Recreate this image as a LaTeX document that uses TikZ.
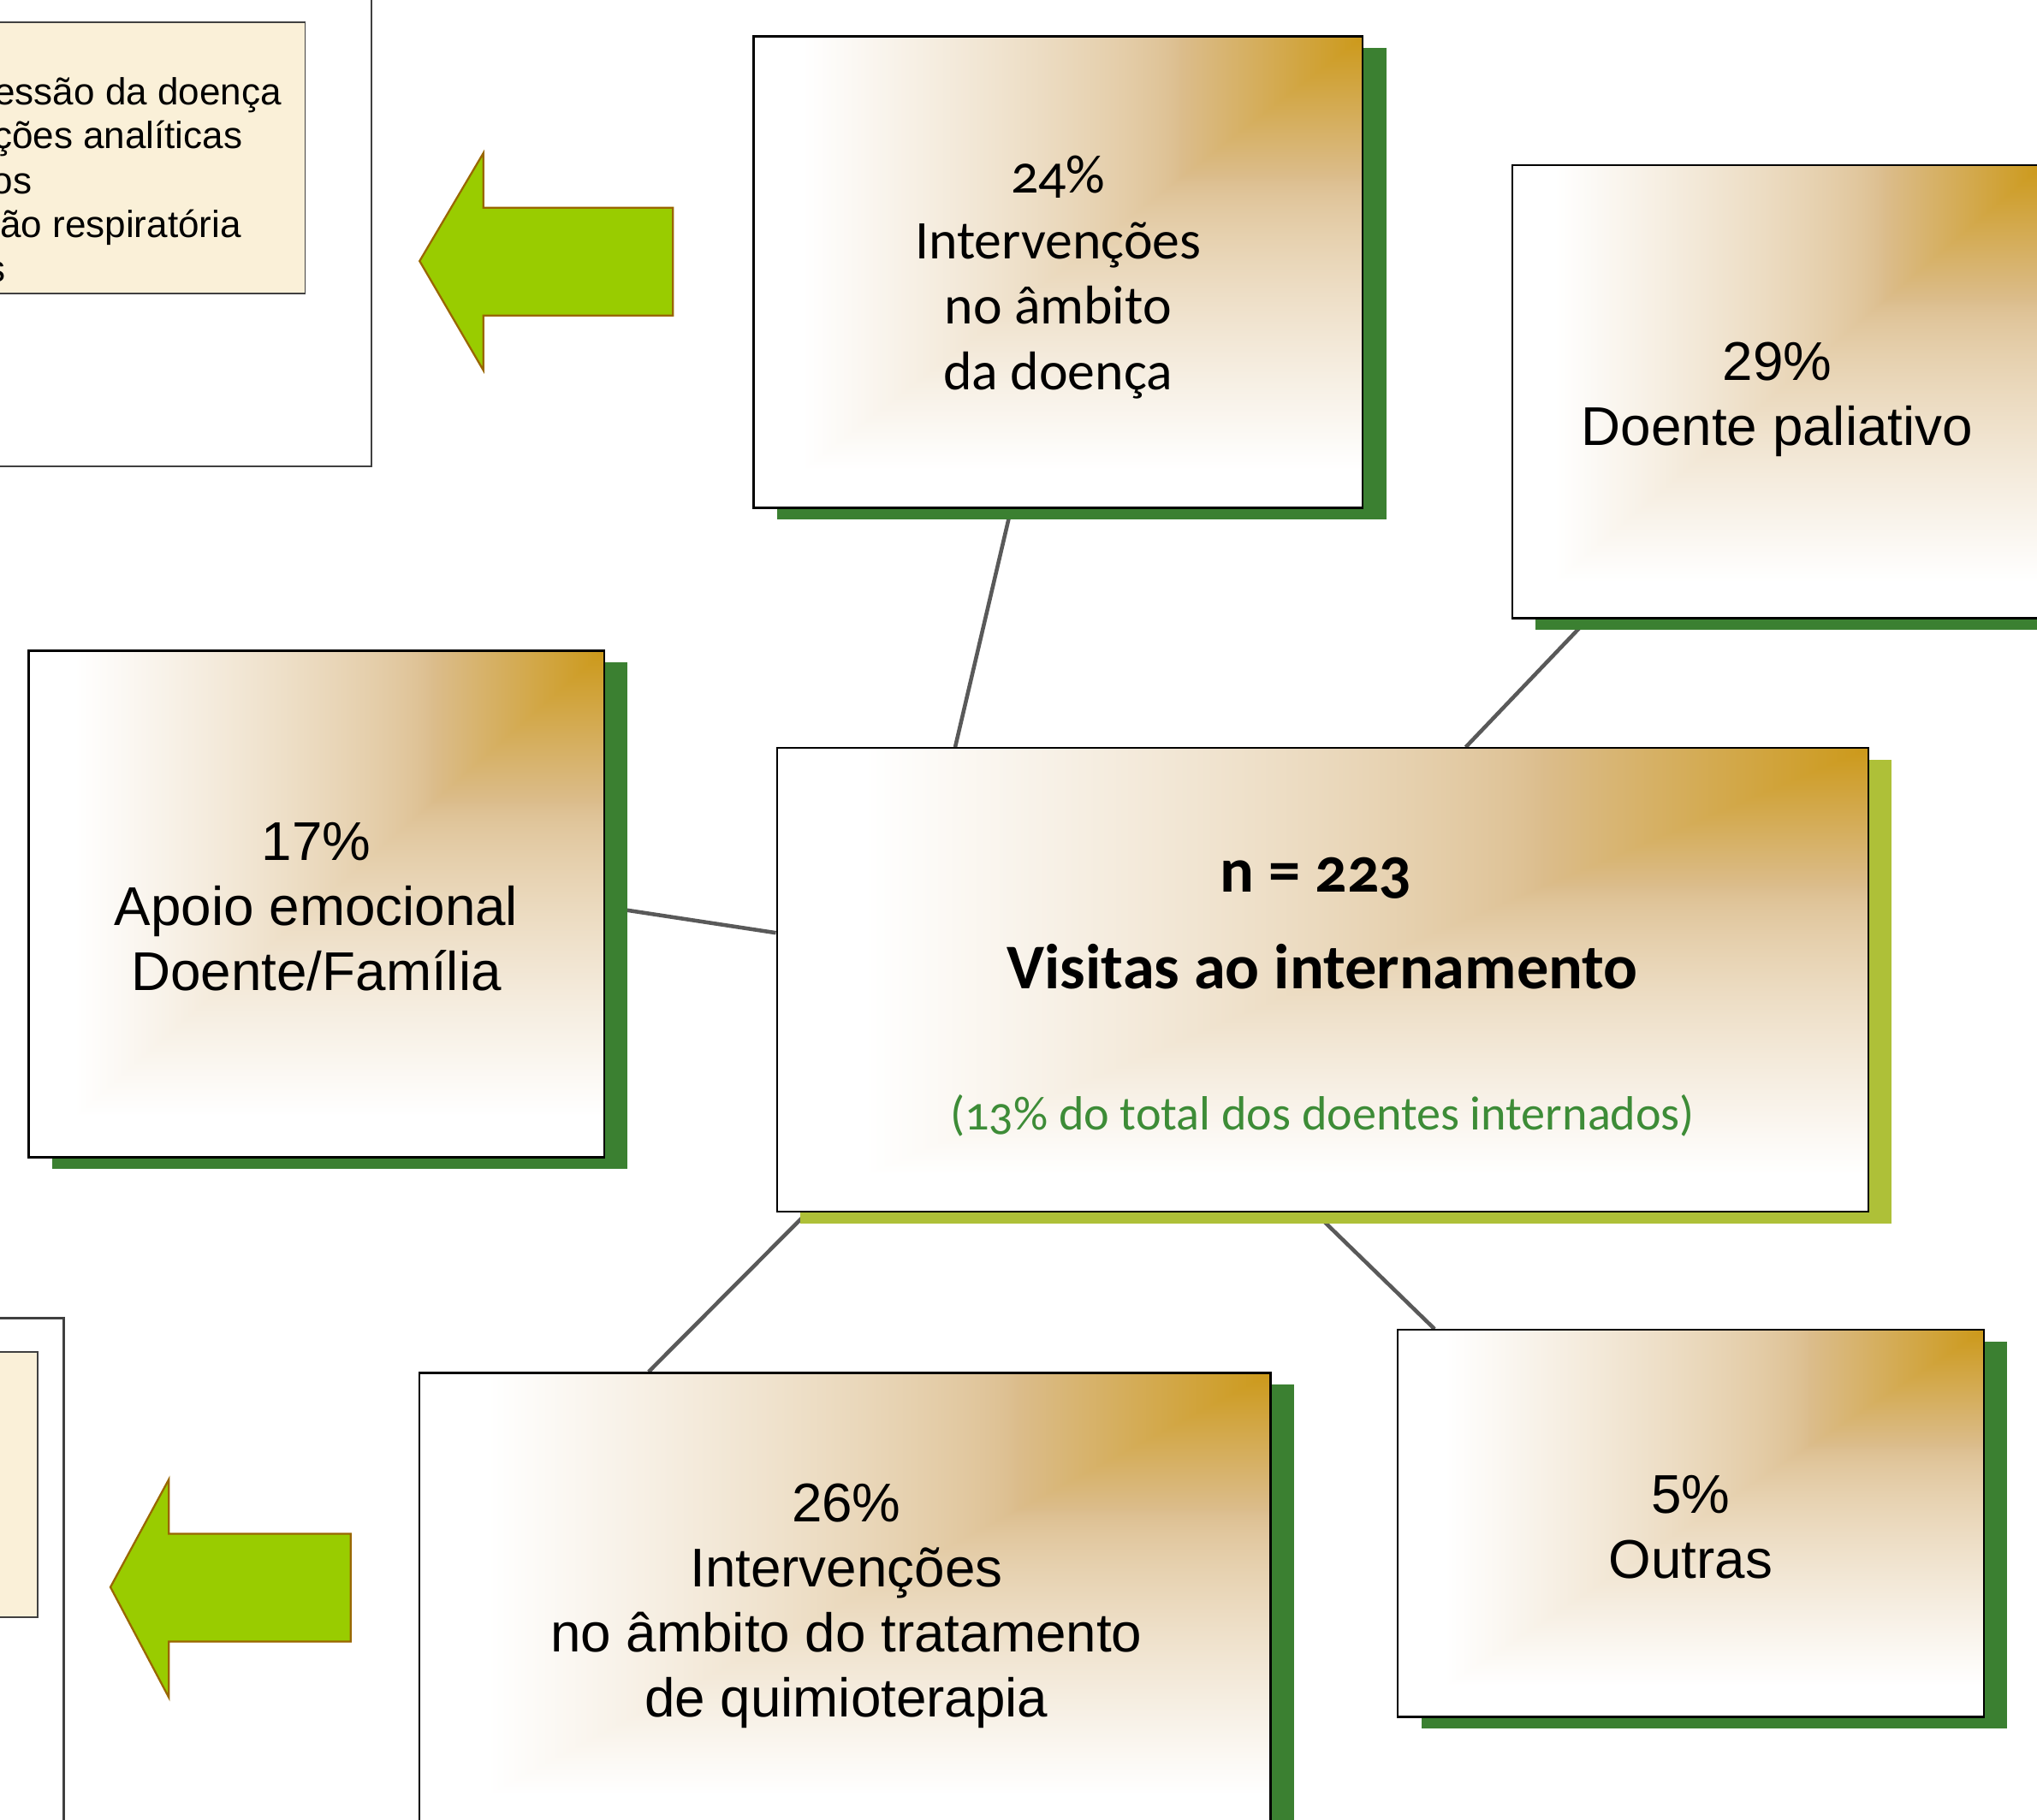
\documentclass[tikz,border=0pt]{standalone}
\usepackage{fontspec}
\setmainfont{Liberation Sans}
\newfontfamily\cand[Numbers=OldStyle]{Carlito}
\usetikzlibrary{shadows,calc}
\pgfdeclarelayer{bg}
\pgfsetlayers{bg,main}
\definecolor{shgreen}{RGB}{59,128,49}
\definecolor{shlime}{RGB}{174,192,56}
\definecolor{txtgreen}{RGB}{61,140,55}
\definecolor{conncol}{RGB}{89,89,89}
\definecolor{arrfill}{RGB}{153,204,0}
\definecolor{arrline}{RGB}{153,102,0}
\definecolor{parch}{RGB}{250,240,216}
\definecolor{framecol}{RGB}{64,64,64}
\pgfdeclarefunctionalshading{goldcorner}{\pgfpoint{0bp}{0bp}}{\pgfpoint{100bp}{100bp}}{}{
 75 exch sub 50 div exch 75 exch sub 50 div
 2 copy lt {exch} if pop
 dup 0 lt {pop 0} if
 dup 0.3 lt
 { 0.3 div dup 0.06 mul 0.80 add exch dup 0.14 mul 0.60 add exch 0.45 mul 0.10 add }
 { 0.3 sub 0.62 div dup 1 gt {pop 1} if 0.75 exp dup 0.14 mul 0.86 add exch dup 0.26 mul 0.74 add exch 0.45 mul 0.55 add }
 ifelse
}
\tikzset{
 gbox/.style={draw=black, line width=0.75pt, shading=goldcorner, inner sep=0pt,
   general shadow={shadow xshift=9pt, shadow yshift=-4.5pt, fill=shgreen}},
 limebox/.style={gbox, general shadow={shadow xshift=9pt, shadow yshift=-4.5pt, fill=shlime}},
 arialtxt/.style={font=\fontsize{21}{25}\selectfont, align=center},
 candtxt/.style={font=\cand\fontsize{21}{25.3}\selectfont, align=center},
 connector/.style={draw=conncol, line width=1.5pt},
 bigarrow/.style={fill=arrfill, draw=arrline, line width=0.75pt},
 outerbox/.style={fill=white, draw=framecol, line width=0.75pt},
 parchbox/.style={fill=parch, draw=framecol, line width=0.5pt},
 listtxt/.style={font=\fontsize{14.5}{17}\selectfont, anchor=base east, inner sep=0pt}
}
\begin{document}
\begin{tikzpicture}[x=0.5pt,y=-0.5pt]
\useasboundingbox (0,0) rectangle (1568,1401);
\clip (0,0) rectangle (1568,1401);
% left framed panels
\draw[outerbox] (-10,-10) rectangle (286,359);
\draw[parchbox] (-10,17) rectangle (235,226);
\node[listtxt] (l1) at (217,80.5) {essão da doença};
\node[listtxt] (l2) at (187,114.5) {ções analíticas};
\node[listtxt] (l3) at (25,149) {os};
\node[listtxt] (l4) at (186,183) {ão respiratória};
\node[listtxt] (l5) at (5,217) {s};
\draw[outerbox] (-10,1015) rectangle (49,1420);
\draw[parchbox] (-10,1041) rectangle (29,1245);
% arrows
\draw[bigarrow] (518,160) -- (372,160) -- (372,118) -- (323,201) -- (372,285) -- (372,243) -- (518,243) -- cycle;
\draw[bigarrow] (270,1181) -- (130,1181) -- (130,1139) -- (85,1222) -- (130,1307) -- (130,1264) -- (270,1264) -- cycle;
% boxes
\node[gbox, minimum width=234.5pt, minimum height=181.5pt] (b24) at (814.5,209.5) {};
\node[gbox, minimum width=204pt, minimum height=174.5pt] (b29) at (1368,301.5) {};
\node[gbox, minimum width=221.5pt, minimum height=195pt] (b17) at (243.5,696) {};
\node[limebox, minimum width=420pt, minimum height=178.5pt] (ctr) at (1018,754.5) {};
\node[gbox, minimum width=327.5pt, minimum height=176.5pt] (b26) at (650.5,1233.5) {};
\node[gbox, minimum width=225.5pt, minimum height=149pt] (b5) at (1301.5,1173) {};
% box texts
\node[candtxt] (b24t) at ($(b24.center)+(0,4)$) {24\%\\Intervenções\\no âmbito\\da doença};
\node[arialtxt] (b29t) at ($(b29.center)+(0,6)$) {29\%\\Doente paliativo};
\node[arialtxt] (b17t) at ($(b17.center)+(0,2)$) {17\%\\Apoio emocional\\Doente/Família};
\node[arialtxt] (b26t) at ($(b26.center)+(1,3)$) {26\%\\Intervenções\\no âmbito do tratamento\\de quimioterapia};
\node[arialtxt] (b5t) at ($(b5.center)+(0,3)$) {5\%\\Outras};
\node[font=\cand\bfseries\fontsize{24.5}{29}\selectfont] (t1) at (1013,676) {n = 223};
\node[font=\cand\bfseries\fontsize{24.5}{29}\selectfont] (t2) at (1018,744) {Visitas ao internamento};
\node[font=\cand\fontsize{18.5}{22}\selectfont, text=txtgreen] (t3) at (1018,859) {(13\% do total dos doentes internados)};
% connectors
\begin{pgfonlayer}{bg}
\draw[connector] ($(b24.south west)+(199,0)$) -- ($(ctr.north west)+(138,0)$);
\draw[connector] ($(b29.south west)+(59,0)$) -- ($(ctr.north west)+(531,0)$);
\draw[connector] ($(b17.north east)+(0,198)$) -- ($(ctr.north west)+(0,143)$);
\draw[connector] ($(ctr.south west)+(24,0)$) -- ($(b26.north west)+(177,0)$);
\draw[connector] ($(ctr.south west)+(415,0)$) -- ($(b5.north west)+(29,0)$);
\end{pgfonlayer}
\end{tikzpicture}
\end{document}
